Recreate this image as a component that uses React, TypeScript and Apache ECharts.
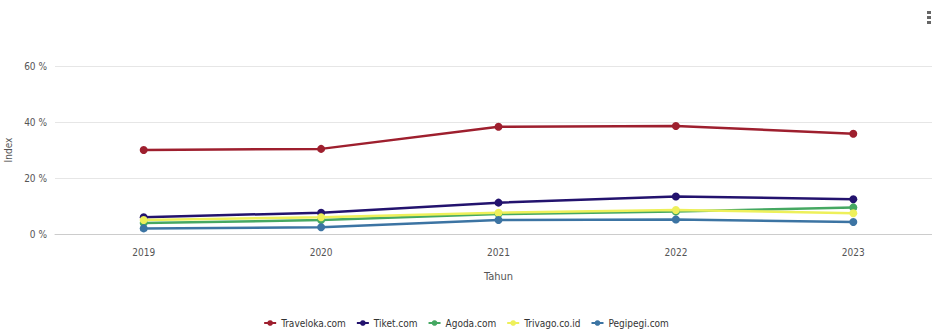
import React, { useEffect, useRef } from "react";
import * as echarts from "echarts";

const years = ["2019", "2020", "2021", "2022", "2023"];
const yTicks = [0, 20, 40, 60];
const traveloka = [30.0, 30.4, 38.3, 38.6, 35.8];
const tiket = [6.0, 7.6, 11.2, 13.4, 12.4];
const agoda = [3.9, 5.0, 7.1, 8.0, 9.5];
const trivago = [5.0, 6.0, 7.6, 8.6, 7.4];
const pegipegi = [2.0, 2.4, 5.0, 5.2, 4.3];

const seriesDefs = [
  { name: "Traveloka.com", data: traveloka, color: "#9e1f2e" },
  { name: "Tiket.com", data: tiket, color: "#23136e" },
  { name: "Agoda.com", data: agoda, color: "#45a862" },
  { name: "Trivago.co.id", data: trivago, color: "#eef05a" },
  { name: "Pegipegi.com", data: pegipegi, color: "#3c74a3" },
];

const FONT = "'DejaVu Sans Condensed', 'Liberation Sans Narrow', sans-serif";

export default function App() {
  const ref = useRef<HTMLDivElement>(null);
  useEffect(() => {
    document.body.style.margin = "0";
    const chart = echarts.init(ref.current!, null, { renderer: "svg" });
    chart.setOption({
      animation: false,
      backgroundColor: "#ffffff",
      textStyle: { fontFamily: FONT },
      grid: { left: 55, right: -10, top: 66, bottom: 97, outerBoundsMode: "none", containLabel: false },
      graphic: [
        { type: "rect", shape: { x: 927, y: 11, width: 4, height: 3 }, style: { fill: "#666" } },
        { type: "rect", shape: { x: 927, y: 16, width: 4, height: 3 }, style: { fill: "#666" } },
        { type: "rect", shape: { x: 927, y: 21, width: 4, height: 3 }, style: { fill: "#666" } },
      ],
      legend: {
        bottom: -2,
        left: "center",
        itemWidth: 12,
        itemHeight: 7,
        itemGap: 10,
        textStyle: { fontFamily: FONT, fontSize: 10, color: "#333" },
        data: seriesDefs.map((s) => s.name),
      },
      xAxis: {
        type: "category",
        data: years,
        boundaryGap: true,
        name: "Tahun",
        nameLocation: "middle",
        nameGap: 37,
        nameTextStyle: { fontFamily: FONT, fontSize: 11, color: "#555" },
        axisLine: { lineStyle: { color: "#cccccc" } },
        axisTick: { show: false },
        axisLabel: { fontFamily: FONT, fontSize: 10, color: "#555", margin: 13 },
      },
      yAxis: {
        type: "value",
        min: yTicks[0],
        max: yTicks[yTicks.length - 1],
        interval: 20,
        name: "Index",
        nameLocation: "middle",
        nameGap: 33,
        nameRotate: 90,
        nameTextStyle: { fontFamily: FONT, fontSize: 10, color: "#555" },
        axisLine: { show: false },
        axisTick: { show: false },
        axisLabel: { fontFamily: FONT, fontSize: 10, color: "#555", formatter: "{value} %", margin: 8 },
        splitLine: { lineStyle: { color: "#e6e6e6" } },
      },
      series: seriesDefs.map((s) => ({
        name: s.name,
        type: "line",
        data: s.data,
        symbol: "circle",
        symbolSize: 8,
        color: s.color,
        lineStyle: { width: 2.5, color: s.color },
        itemStyle: { color: s.color },
      })),
    });
    return () => chart.dispose();
  }, []);
  return <div ref={ref} style={{ position: "absolute", left: 0, top: 0, width: 932, height: 331 }} />;
}
